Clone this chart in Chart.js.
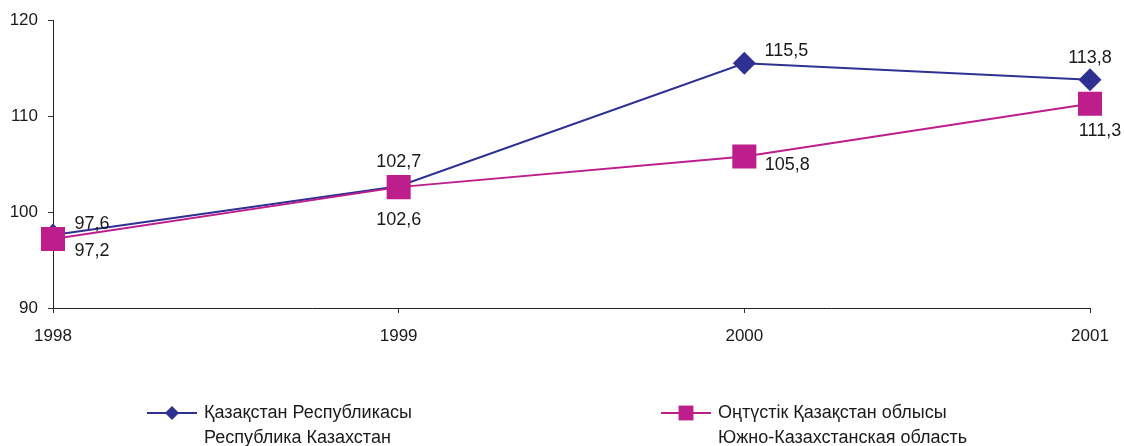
<!DOCTYPE html>
<html>
<head>
<meta charset="utf-8">
<script src="https://cdn.jsdelivr.net/npm/chart.js@4"></script>
<style>
  body { margin: 0; background: #fff; }
  #wrap { position: relative; width: 1124px; height: 446px; }
</style>
</head>
<body>
<div id="wrap"><canvas id="chart" width="1124" height="446"></canvas></div>
<script>
const years = ['1998', '1999', '2000', '2001'];
const kazakhstan = [97.6, 102.7, 115.5, 113.8];
const southKaz = [97.2, 102.6, 105.8, 111.3];
const yTicks = [90, 100, 110, 120];
const nameKaz = ['Қазақстан Республикасы', 'Республика Казахстан'];
const nameSouth = ['Оңтүстік Қазақстан облысы', 'Южно-Казахстанская область'];

const blue = '#2e3192';
const magenta = '#bd1e8c';
const font = '"Liberation Sans", Arial, sans-serif';

// label offsets (dx, dy) from each point
const offKaz = [[39, -11], [0, -24], [42, -12], [0, -22]];
const offSouth = [[39, 12], [0, 33], [43, 9], [10, 27]];

const fmt = v => String(v.toFixed(1)).replace('.', ',');

const labelPlugin = {
  id: 'labels',
  afterDatasetsDraw(chart) {
    const ctx = chart.ctx;
    ctx.save();
    ctx.font = '18px ' + font;
    ctx.fillStyle = '#1a1a1a';
    ctx.textAlign = 'center';
    ctx.textBaseline = 'middle';
    const offs = [offKaz, offSouth];
    chart.data.datasets.forEach((ds, i) => {
      chart.getDatasetMeta(i).data.forEach((pt, j) => {
        ctx.fillText(fmt(ds.data[j]), pt.x + offs[i][j][0], pt.y + offs[i][j][1]);
      });
    });
    ctx.restore();
  }
};

const legendPlugin = {
  id: 'customLegend',
  afterDraw(chart) {
    const ctx = chart.ctx;
    const items = [
      { x: 147, color: blue, style: 'rectRot', r: 7, text: nameKaz },
      { x: 661, color: magenta, style: 'rect', r: 10.5, text: nameSouth }
    ];
    ctx.save();
    items.forEach(it => {
      const y = 413;
      ctx.strokeStyle = it.color;
      ctx.lineWidth = 2;
      ctx.beginPath();
      ctx.moveTo(it.x, y);
      ctx.lineTo(it.x + 50, y);
      ctx.stroke();
      ctx.fillStyle = it.color;
      Chart.helpers.drawPoint(ctx, { pointStyle: it.style, radius: it.r, rotation: 0, borderWidth: 0 }, it.x + 25, y);
      ctx.fillStyle = '#1a1a1a';
      ctx.font = '18px ' + font;
      ctx.textAlign = 'left';
      ctx.textBaseline = 'middle';
      ctx.fillText(it.text[0], it.x + 57, y);
      ctx.fillText(it.text[1], it.x + 57, y + 25);
    });
    ctx.restore();
  }
};

new Chart(document.getElementById('chart'), {
  type: 'line',
  data: {
    labels: years,
    datasets: [
      {
        label: nameKaz.join(' '),
        data: kazakhstan,
        borderColor: blue,
        backgroundColor: blue,
        borderWidth: 2,
        pointStyle: 'rectRot',
        pointRadius: 11.5,
        pointBorderWidth: 0,
        tension: 0,
        order: 2
      },
      {
        label: nameSouth.join(' '),
        data: southKaz,
        borderColor: magenta,
        backgroundColor: magenta,
        borderWidth: 2,
        pointStyle: 'rect',
        pointRadius: 17,
        pointBorderWidth: 0,
        tension: 0,
        order: 1
      }
    ]
  },
  options: {
    responsive: false,
    animation: false,
    layout: { padding: { top: 20, right: 34, left: 0, bottom: 0 } },
    plugins: { legend: { display: false }, tooltip: { enabled: false } },
    scales: {
      x: {
        offset: false,
        grid: { drawOnChartArea: false, drawTicks: true, tickLength: 5, color: '#333' },
        border: { color: '#222', width: 1 },
        ticks: { color: '#1a1a1a', font: { size: 17, family: font }, padding: 13, maxRotation: 0 },
        afterFit(scale) { scale.height = 138; }
      },
      y: {
        min: 90,
        max: 120,
        afterBuildTicks(scale) { scale.ticks = yTicks.map(v => ({ value: v })); },
        grid: { drawOnChartArea: false, drawTicks: true, tickLength: 5, color: '#333' },
        border: { color: '#222', width: 1 },
        ticks: { color: '#1a1a1a', font: { size: 17, family: font }, padding: 10 },
        afterFit(scale) { scale.width = 53; }
      }
    }
  },
  plugins: [labelPlugin, legendPlugin]
});
</script>
</body>
</html>
